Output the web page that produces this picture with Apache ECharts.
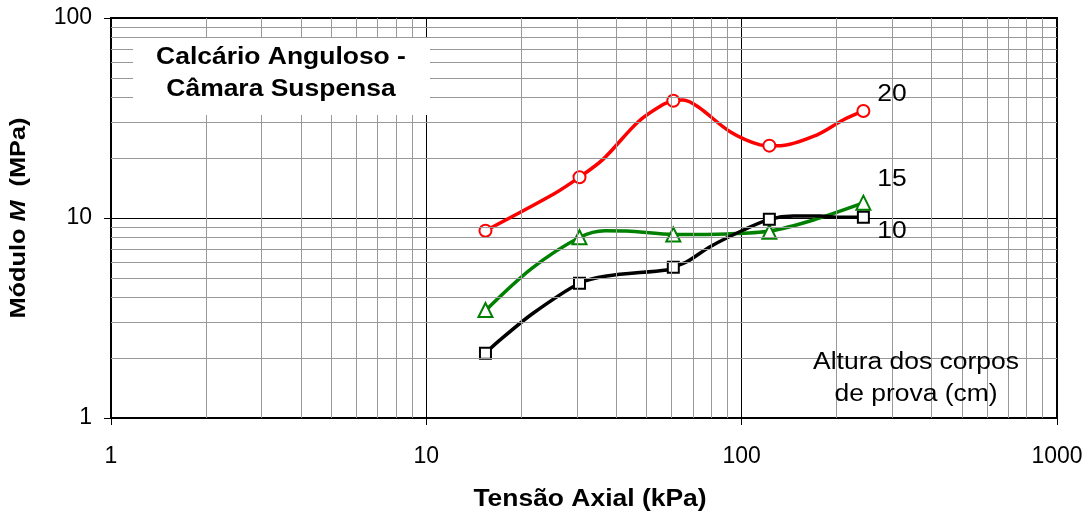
<!DOCTYPE html>
<html>
<head>
<meta charset="utf-8">
<script src="https://cdn.jsdelivr.net/npm/echarts@6/dist/echarts.min.js"></script>
<style>
  html, body { margin: 0; padding: 0; background: #fff; }
  #main { width: 1091px; height: 517px; }
</style>
</head>
<body>
<div id="main"></div>
<script>
const myChart = echarts.init(document.getElementById('main'));

// pontos medidos (marcadores)
const markX = [15.4, 30.6, 60.7, 122.4, 243.2];
const red20 = [8.64, 16.0, 38.6, 23.0, 34.3];
const green15 = [3.47, 8.01, 8.27, 8.54, 11.93];
const black10 = [2.11, 4.72, 5.67, 9.85, 10.08];

// curvas suavizadas
const redCurveX = [15.4, 25.6, 30.6, 36.4, 47.0, 56.5, 60.7, 65.2, 72.7, 91.9, 114.4, 122.4, 132.4, 173.0, 209.7, 243.2];
const redCurveY = [8.64, 13.3, 16.0, 19.7, 30.3, 37.0, 38.6, 38.9, 36.0, 27.0, 23.2, 23.0, 23.0, 26.0, 30.9, 34.3];
const greenCurveX = [15.47, 21.6, 30.7, 36.9, 43.2, 61.0, 89.7, 123, 168.8, 244.4];
const greenCurveY = [3.47, 5.60, 8.01, 8.64, 8.61, 8.27, 8.32, 8.6, 9.77, 11.93];
const blackCurveX = [15.4, 17.1, 21.8, 30.6, 37.3, 57.9, 60.7, 67.0, 79.4, 101.3, 122.4, 145.9, 177.3, 205.1, 243.2];
const blackCurveY = [2.11, 2.45, 3.34, 4.72, 5.13, 5.50, 5.67, 6.04, 7.19, 8.71, 9.85, 10.23, 10.23, 10.08, 10.08];

// linhas secundárias da grade log
const xMinor = [2, 3, 4, 5, 6, 7, 8, 9, 20, 30, 40, 50, 60, 70, 80, 90, 200, 300, 400, 500, 600, 700, 800, 900];
const yMinor = [2, 3, 4, 5, 6, 7, 8, 9, 20, 30, 40, 50, 60, 70, 80, 90];

const zip = (xs, ys) => xs.map((v, i) => [v, ys[i]]);
const font = 'Liberation Sans, Arial, sans-serif';
const sx = 1.15; // texto do original é mais largo

function curve(name, xs, ys, color) {
    return {
        name: name,
        type: 'line',
        data: zip(xs, ys),
        smooth: 0.3,
        showSymbol: false,
        symbol: 'none',
        z: 3,
        lineStyle: { color: color, width: 3.5 }
    };
}
function marks(name, ys, color, symbol, size) {
    return {
        name: name,
        type: 'scatter',
        data: zip(markX, ys),
        symbol: symbol,
        symbolSize: size,
        z: 4,
        itemStyle: { color: '#fff', borderColor: color, borderWidth: 2, opacity: 1 }
    };
}
function label(text, x, y, opts) {
    return Object.assign({
        type: 'text', x: x, y: y, z: 51, scaleX: sx,
        style: {
            text: text,
            font: '23px ' + font,
            fill: '#000',
            align: 'center',
            verticalAlign: 'middle',
            lineHeight: 32
        }
    }, opts || {});
}

const option = {
    animation: false,
    grid: {
        left: 111, right: 34, top: 18, bottom: 99,
        containLabel: false,
        outerBoundsMode: 'none',
        show: true,
        borderColor: '#000',
        borderWidth: 2,
        backgroundColor: '#fff'
    },
    xAxis: {
        type: 'log',
        logBase: 10,
        min: 1,
        max: 1000,
        axisLine: { lineStyle: { color: '#000', width: 2 } },
        axisTick: { show: true, length: 7, lineStyle: { color: '#000', width: 1 } },
        axisLabel: { fontFamily: font, fontSize: 23, color: '#000', margin: 27, formatter: v => String(v) },
        splitLine: { show: true, lineStyle: { color: '#000', width: 1 } }
    },
    yAxis: {
        type: 'log',
        logBase: 10,
        min: 1,
        max: 100,
        axisLine: { lineStyle: { color: '#000', width: 2 } },
        axisTick: { show: true, length: 7, lineStyle: { color: '#000', width: 1 } },
        axisLabel: { fontFamily: font, fontSize: 23, color: '#000', margin: 19, formatter: v => String(v) },
        splitLine: { show: true, lineStyle: { color: '#000', width: 1 } }
    },
    graphic: [
        {
            type: 'rect',
            shape: { x: 133, y: 38, width: 297, height: 77 },
            style: { fill: '#fff' },
            z: 50
        },
        label('Calcário Anguloso -\nCâmara Suspensa', 281, 74, {
            style: {
                text: 'Calcário Anguloso -\nCâmara Suspensa',
                font: 'bold 23px ' + font, fill: '#000',
                align: 'center', verticalAlign: 'middle', lineHeight: 32
            }
        }),
        label('20', 892, 95),
        label('15', 892, 180),
        label('10', 892, 232),
        label('Altura dos corpos\nde prova (cm)', 916, 379),
        // títulos dos eixos
        label('Tensão Axial (kPa)', 590, 500, {
            style: {
                text: 'Tensão Axial (kPa)',
                font: 'bold 23px ' + font, fill: '#000',
                align: 'center', verticalAlign: 'middle'
            }
        }),
        label('', 19, 218, {
            rotation: Math.PI / 2,
            style: {
                text: 'Módulo {i|M}  (MPa)',
                font: 'bold 22px ' + font, fill: '#000',
                align: 'center', verticalAlign: 'middle',
                rich: { i: { font: 'italic bold 22px ' + font, fill: '#000' } }
            }
        })
    ],
    series: [
        {
            name: 'grade',
            type: 'line',
            data: [],
            z: 1,
            silent: true,
            markLine: {
                silent: true,
                symbol: 'none',
                label: { show: false },
                lineStyle: { color: '#999', width: 1, type: 'solid' },
                data: xMinor.map(v => ({ xAxis: v })).concat(yMinor.map(v => ({ yAxis: v })))
            }
        },
        curve('20', redCurveX, redCurveY, '#ff0000'),
        curve('15', greenCurveX, greenCurveY, '#008000'),
        curve('10', blackCurveX, blackCurveY, '#000000'),
        marks('20', red20, '#ff0000', 'circle', 12),
        marks('15', green15, '#008000', 'triangle', 14),
        marks('10', black10, '#000000', 'rect', 11)
    ]
};

myChart.setOption(option);
</script>
</body>
</html>
